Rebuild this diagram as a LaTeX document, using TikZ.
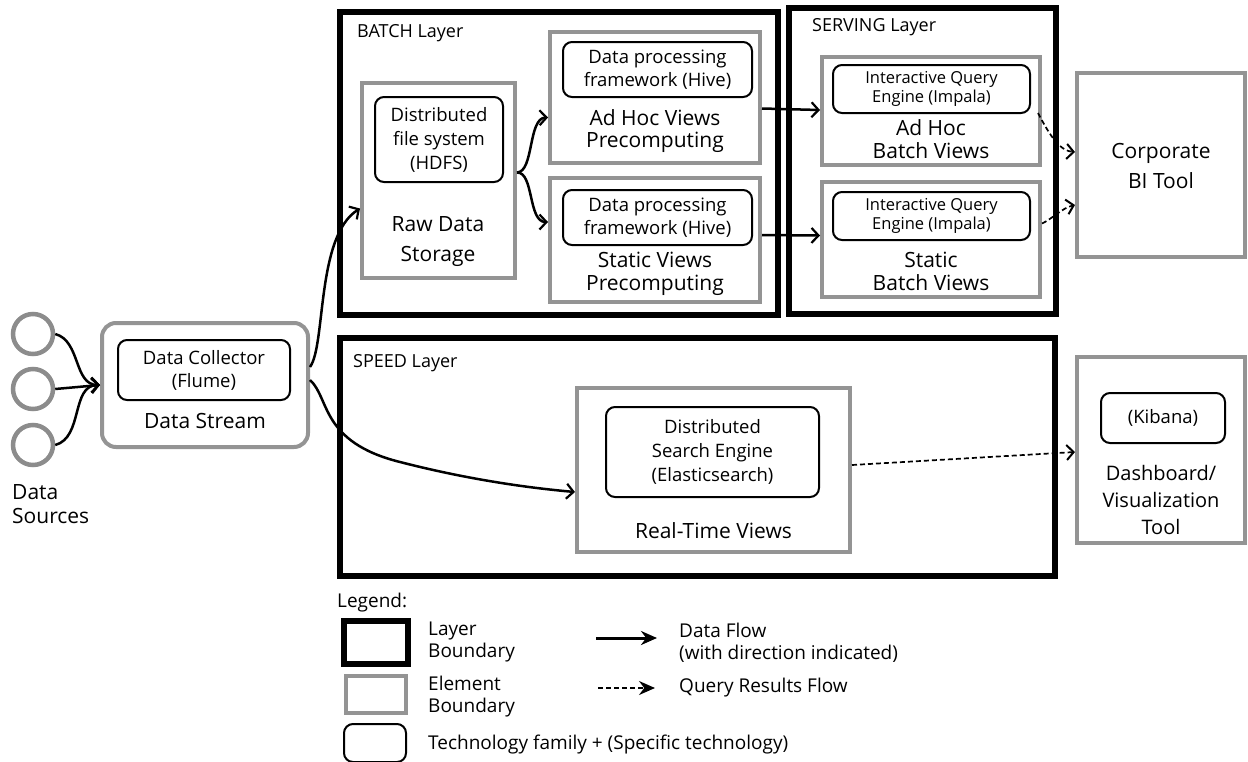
\documentclass[tikz,border=0pt]{standalone}
\usepackage{fontspec}
\setmainfont{Open Sans}
\usetikzlibrary{arrows.meta}
\begin{document}
\begin{tikzpicture}[x=1pt,y=-1pt,
  layerbox/.style={draw=black, line width=5.5pt, inner sep=0pt},
  elembox/.style={draw=black!42, line width=4pt, fill=white, inner sep=0pt},
  techbox/.style={draw=black, line width=2pt, rounded corners=9pt, inner sep=0pt},
  srcnode/.style={circle, draw=black!45, line width=4.5pt, minimum size=40pt, inner sep=0pt},
  big/.style={font=\fontsize{21}{27}\selectfont, align=center, inner sep=0pt},
  mid/.style={font=\fontsize{18.5}{23}\selectfont, align=center, inner sep=0pt},
  small/.style={font=\fontsize{16.5}{19}\selectfont, align=center, inner sep=0pt},
  title/.style={font=\fontsize{18}{20}\selectfont, anchor=west, inner sep=0pt},
  legtxt/.style={font=\fontsize{19}{22}\selectfont, align=left, anchor=west, inner sep=0pt},
  flow/.style={-{Straight Barb[length=7pt,width=15pt,line width=2.2pt]}, line width=2.5pt},
  query/.style={-{Straight Barb[length=7pt,width=15pt,line width=2pt]}, line width=1.7pt, dash pattern=on 5pt off 3pt},
  legflow/.style={-{Stealth[length=16pt,width=14pt]}, line width=3pt},
  legquery/.style={-{Stealth[length=16pt,width=14pt]}, line width=1.8pt, dash pattern=on 5pt off 3pt}
]
\useasboundingbox (0,0) rectangle (1248,761);

% layers
\node[layerbox, minimum width=438pt, minimum height=303pt] (batch) at (559,163.5) {};
\node[layerbox, minimum width=267pt, minimum height=306pt] (serving) at (922.5,161) {};
\node[layerbox, minimum width=715pt, minimum height=238pt] (speed) at (697.5,457) {};
\node[title] (batchlbl) at (357,33) {BATCH Layer};
\node[title] (servinglbl) at (812,27) {SERVING Layer};
\node[title] (speedlbl) at (353,363) {SPEED Layer};

% sources
\node[srcnode] (s1) at (33,334) {};
\node[srcnode] (s2) at (33,389) {};
\node[srcnode] (s3) at (33,445) {};
\node[big, align=left, anchor=west, font=\fontsize{21}{24}\selectfont] (srclbl) at (12,504) {Data\\Sources};

% elements
\node[elembox, rounded corners=14pt, minimum width=206pt, minimum height=124pt] (stream) at (205,385) {};
\node[elembox, minimum width=153pt, minimum height=195pt] (raw) at (438.5,180.5) {};
\node[elembox, minimum width=210pt, minimum height=131pt] (adhocpre) at (655,97.5) {};
\node[elembox, minimum width=210pt, minimum height=124pt] (staticpre) at (655,240) {};
\node[elembox, minimum width=218pt, minimum height=108pt] (adhocbv) at (931,111) {};
\node[elembox, minimum width=218pt, minimum height=115pt] (staticbv) at (931,239.5) {};
\node[elembox, minimum width=168pt, minimum height=184pt] (bi) at (1161,165) {};
\node[elembox, minimum width=273pt, minimum height=164pt] (rt) at (713.5,470) {};
\node[elembox, minimum width=168pt, minimum height=186pt] (dash) at (1161,450) {};

% technology boxes
\node[techbox, minimum width=172pt, minimum height=60pt] (flume) at (204,370) {};
\node[techbox, minimum width=128pt, minimum height=85pt] (hdfs) at (439,139.5) {};
\node[techbox, minimum width=189pt, minimum height=55pt] (hive1) at (657.5,69.5) {};
\node[techbox, minimum width=189pt, minimum height=55pt] (hive2) at (657.5,217.5) {};
\node[techbox, minimum width=197pt, minimum height=48pt] (impala1) at (931.5,89) {};
\node[techbox, minimum width=197pt, minimum height=48pt] (impala2) at (931.5,216) {};
\node[techbox, minimum width=213pt, minimum height=90pt] (es) at (712.5,452) {};
\node[techbox, minimum width=124pt, minimum height=50pt] (kibana) at (1163,418) {};

% texts
\node[mid] (flumelbl) at (flume) {Data Collector\\(Flume)};
\node[big] (streamlbl) at (205,421) {Data Stream};
\node[mid, font=\fontsize{18.5}{24}\selectfont] (hdfslbl) at (hdfs) {Distributed\\file system\\(HDFS)};
\node[big, font=\fontsize{21}{30}\selectfont] (rawlbl) at (438,242) {Raw Data\\Storage};
\node[mid] (hive1lbl) at (hive1) {Data processing\\framework (Hive)};
\node[mid] (hive2lbl) at (hive2) {Data processing\\framework (Hive)};
\node[big, font=\fontsize{21}{22}\selectfont] (adhocprelbl) at (655,131) {Ad Hoc Views\\Precomputing};
\node[big, font=\fontsize{21}{23}\selectfont] (staticprelbl) at (655,274) {Static Views\\Precomputing};
\node[small] (impala1lbl) at (impala1) {Interactive Query\\Engine (Impala)};
\node[small] (impala2lbl) at (impala2) {Interactive Query\\Engine (Impala)};
\node[big, font=\fontsize{21}{23}\selectfont] (adhocbvlbl) at (931,139) {Ad Hoc\\Batch Views};
\node[big, font=\fontsize{21}{23}\selectfont] (staticbvlbl) at (931,271) {Static\\Batch Views};
\node[big, font=\fontsize{21}{30}\selectfont] (bilbl) at (1161,166) {Corporate\\BI Tool};
\node[mid, font=\fontsize{18.5}{24}\selectfont] (eslbl) at (es) {Distributed\\Search Engine\\(Elasticsearch)};
\node[big] (rtlbl) at (713.5,531) {Real-Time Views};
\node[mid] (kibanalbl) at (kibana) {(Kibana)};
\node[big, font=\fontsize{20}{27}\selectfont] (dashlbl) at (1161,500) {Dashboard/\\Visualization\\Tool};

% data flow connectors
\draw[flow] (s1.east) to[out=-15,in=180] (stream.west);
\draw[flow] (s2.east) -- (stream.west);
\draw[flow] (s3.east) to[out=15,in=180] (stream.west);
\draw[flow] ([yshift=18pt]stream.east) .. controls (326,345) and (316,236) .. ([yshift=-28pt]raw.west);
\draw[flow] ([yshift=5pt]stream.east) .. controls (330,398) and (320,442) .. (400,462) .. controls (470,480) and (530,488) .. ([yshift=-22pt]rt.west);
\draw[flow] ([yshift=8pt]raw.east) .. controls (534,172) and (528,118) .. ([yshift=-20pt]adhocpre.west);
\draw[flow] ([yshift=8pt]raw.east) .. controls (534,172) and (528,222) .. ([yshift=18pt]staticpre.west);
\draw[flow] ([yshift=-11pt]adhocpre.east) -- ([yshift=1pt]adhocbv.west);
\draw[flow] ([yshift=5pt]staticpre.east) -- ([yshift=4pt]staticbv.west);

% query results connectors
\draw[query] ([xshift=-4pt,yshift=-2pt]adhocbv.east) .. controls (1050,136) and (1060,151) .. ([yshift=13pt]bi.west);
\draw[query] ([yshift=16pt]staticbv.east) .. controls (1052,219) and (1062,208) .. ([yshift=-40pt]bi.west);
\draw[query] ([yshift=5pt]rt.east) -- ([yshift=-2pt]dash.west);

% legend
\node[legtxt] (leglbl) at (337,603) {Legend:};
\node[layerbox, minimum width=64pt, minimum height=43pt] (leglayer) at (376,642.5) {};
\node[elembox, minimum width=60pt, minimum height=37pt] (legelem) at (376,694) {};
\node[techbox, minimum width=62pt, minimum height=38pt] (legtech) at (375,743) {};
\node[legtxt] (leglayerlbl) at (428,642) {Layer\\Boundary};
\node[legtxt] (legelemlbl) at (428,697) {Element\\Boundary};
\node[legtxt] (legtechlbl) at (428,745) {Technology family + (Specific technology)};
\coordinate (lf1) at (596,638);
\coordinate (lf2) at (657,638);
\coordinate (lq1) at (598,688);
\coordinate (lq2) at (655,688);
\draw[legflow] (lf1) -- (lf2);
\draw[legquery] (lq1) -- (lq2);
\node[legtxt] (legflowlbl) at (679,643) {Data Flow\\(with direction indicated)};
\node[legtxt] (legquerylbl) at (679,688) {Query Results Flow};
\end{tikzpicture}
\end{document}
